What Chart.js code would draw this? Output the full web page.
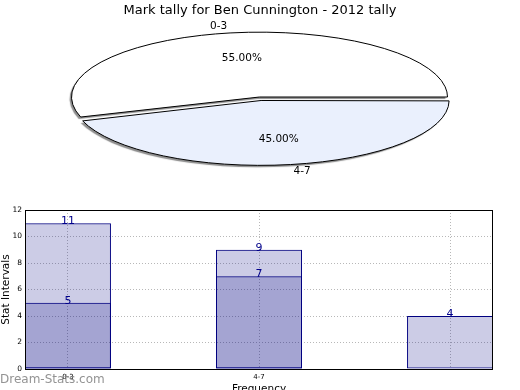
<!DOCTYPE html>
<html>
<head>
<meta charset="utf-8">
<script src="https://cdn.jsdelivr.net/npm/chart.js@4"></script>
<style>
  html, body { margin: 0; padding: 0; background: #fff; overflow: hidden; width: 520px; height: 390px; }
  #barChart { position: absolute; left: 0; top: 190px; }
  #pieChart { position: absolute; left: 0; top: 0; }
  #mark { position: absolute; left: 0; top: 372px; font: 12px "DejaVu Sans", sans-serif; line-height: 14px; color: rgba(128,128,128,0.85); }
</style>
</head>
<body>
<canvas id="barChart" width="520" height="210"></canvas>
<canvas id="pieChart" width="520" height="390"></canvas>
<div id="mark">Dream-Stats.com</div>
<script>
// data
const pieLabels = ['0-3', '4-7'];
const pieValues = [55, 45];
const categories = ['0-3', '4-7', ''];
const upperValues = [11, 9, 4];
const lowerValues = [5, 7, null];
const yTicks = [0, 2, 4, 6, 8, 10, 12];

const FONT = '"DejaVu Sans", sans-serif';

// pie is drawn as a circle and squashed into an ellipse
const PIE_R = 188;
const PIE_CX = 259.5;
const PIE_CY = 97;
const PIE_K = 0.345;

const squash = {
  id: 'squash',
  beforeDatasetsDraw(chart) {
    const ctx = chart.ctx;
    const meta = chart.getDatasetMeta(0);
    meta.data.forEach(arc => {
      const off = (arc.options.offset || 0) / 4;
      arc.outerRadius = PIE_R - off * (1 - Math.sin(Math.min(Math.PI, arc.circumference)));
    });
    const a = meta.data[0];
    ctx.save();
    ctx.translate(PIE_CX, PIE_CY);
    ctx.scale(1, PIE_K);
    ctx.translate(-a.x, -a.y);
    ctx.shadowColor = 'rgba(0,0,0,0.45)';
    ctx.shadowOffsetX = -2;
    ctx.shadowOffsetY = 2;
    ctx.shadowBlur = 1;
    // keep outline width even after the squash, no shadow on outline
    ctx.stroke = function () {
      this.save();
      this.setTransform(1, 0, 0, 1, 0, 0);
      this.shadowColor = 'rgba(0,0,0,0)';
      CanvasRenderingContext2D.prototype.stroke.call(this);
      this.restore();
    };
  },
  afterDatasetsDraw(chart) {
    const ctx = chart.ctx;
    delete ctx.stroke;
    ctx.restore();
    const meta = chart.getDatasetMeta(0);
    const total = pieValues.reduce((s, v) => s + v, 0);
    ctx.save();
    ctx.fillStyle = '#000';
    ctx.font = '10.5px ' + FONT;
    ctx.textBaseline = 'middle';
    meta.data.forEach((arc, i) => {
      const mid = (arc.startAngle + arc.endAngle) / 2;
      const off = (arc.options.offset || 0) / 4;
      const ox = Math.cos(mid) * off;
      const oy = Math.sin(mid) * off * PIE_K;
      const lx = PIE_CX + Math.cos(mid) * PIE_R * 1.1 + ox;
      const ly = PIE_CY + Math.sin(mid) * PIE_R * 1.1 * PIE_K + oy;
      ctx.textAlign = Math.cos(mid) < 0 ? 'right' : 'left';
      ctx.fillText(pieLabels[i], lx, ly);
      const px = PIE_CX + Math.cos(mid) * PIE_R * 0.6 + ox;
      const py = PIE_CY + Math.sin(mid) * PIE_R * 0.6 * PIE_K + oy;
      ctx.textAlign = 'center';
      ctx.fillText((pieValues[i] / total * 100).toFixed(2) + '%', px, py);
    });
    ctx.restore();
  }
};

new Chart(document.getElementById('pieChart'), {
  type: 'pie',
  data: {
    labels: pieLabels,
    datasets: [{
      data: pieValues,
      backgroundColor: ['#ffffff', '#eaf0fd'],
      borderColor: '#000',
      borderWidth: 1,
      offset: [0, 41],
      clip: false
    }]
  },
  options: {
    responsive: false,
    animation: false,
    events: [],
    rotation: 252,
    radius: PIE_R,
    plugins: {
      legend: { display: false },
      tooltip: { enabled: false },
      title: {
        display: true,
        text: 'Mark tally for Ben Cunnington - 2012 tally',
        color: '#000',
        font: { family: FONT, size: 13, weight: 'normal' },
        padding: { top: 3, bottom: 0 }
      }
    }
  },
  plugins: [squash]
});

const barExtras = {
  id: 'barExtras',
  afterDatasetsDraw(chart) {
    const ctx = chart.ctx;
    const a = chart.chartArea;
    ctx.save();
    ctx.fillStyle = '#00008b';
    ctx.font = '11px ' + FONT;
    ctx.textAlign = 'center';
    ctx.textBaseline = 'alphabetic';
    chart.data.datasets.forEach((ds, di) => {
      chart.getDatasetMeta(di).data.forEach((bar, i) => {
        const v = ds.data[i].y;
        if (v === null) return;
        ctx.fillText(String(v), bar.x, bar.y + 1);
      });
    });
    ctx.strokeStyle = '#000';
    ctx.lineWidth = 1;
    ctx.strokeRect(Math.round(a.left) + 0.5, Math.round(a.top) + 0.5,
      Math.round(a.right - a.left) - 1, Math.round(a.bottom - a.top));
    ctx.restore();
  }
};

const toPoints = vals => vals.map((v, i) => ({ x: i, y: v }));

new Chart(document.getElementById('barChart'), {
  type: 'bar',
  data: {
    datasets: [{
      data: toPoints(lowerValues),
      backgroundColor: 'rgba(0,0,128,0.2)',
      borderColor: '#000080',
      borderWidth: 1,
      borderSkipped: false,
      grouped: false,
      categoryPercentage: 1,
      barPercentage: 0.45
    }, {
      data: toPoints(upperValues),
      backgroundColor: 'rgba(0,0,128,0.2)',
      borderColor: '#000080',
      borderWidth: 1,
      borderSkipped: false,
      grouped: false,
      categoryPercentage: 1,
      barPercentage: 0.45
    }]
  },
  options: {
    responsive: false,
    animation: false,
    events: [],
    layout: { padding: { left: 0, right: 27, top: 20, bottom: 0 } },
    plugins: { legend: { display: false }, tooltip: { enabled: false } },
    scales: {
      x: {
        type: 'linear',
        min: -0.225,
        max: 2.225,
        offset: false,
        afterBuildTicks: axis => { axis.ticks = categories.map((c, i) => ({ value: i })); },
        afterFit: axis => { axis.height = 31; },
        grid: { color: '#b8b8b8', drawTicks: false, offset: false },
        border: { display: false, dash: [1, 2] },
        ticks: {
          padding: 4,
          color: '#000',
          font: { family: FONT, size: 7 },
          maxRotation: 0,
          autoSkip: false,
          callback: (v, i) => categories[i]
        },
        title: {
          display: true,
          text: 'Frequency',
          color: '#000',
          font: { family: FONT, size: 10.5 },
          padding: { top: 0, bottom: 4 }
        }
      },
      y: {
        min: 0,
        max: 12,
        afterBuildTicks: axis => { axis.ticks = yTicks.map(v => ({ value: v })); },
        afterFit: axis => { axis.width = 25; },
        grid: { color: '#b8b8b8', drawTicks: false },
        border: { display: false, dash: [1, 2] },
        ticks: {
          padding: 3,
          color: '#000',
          font: { family: FONT, size: 7.5 }
        },
        title: {
          display: true,
          text: 'Stat Intervals',
          color: '#000',
          font: { family: FONT, size: 10.5 },
          padding: 0
        }
      }
    }
  },
  plugins: [barExtras]
});
</script>
</body>
</html>
